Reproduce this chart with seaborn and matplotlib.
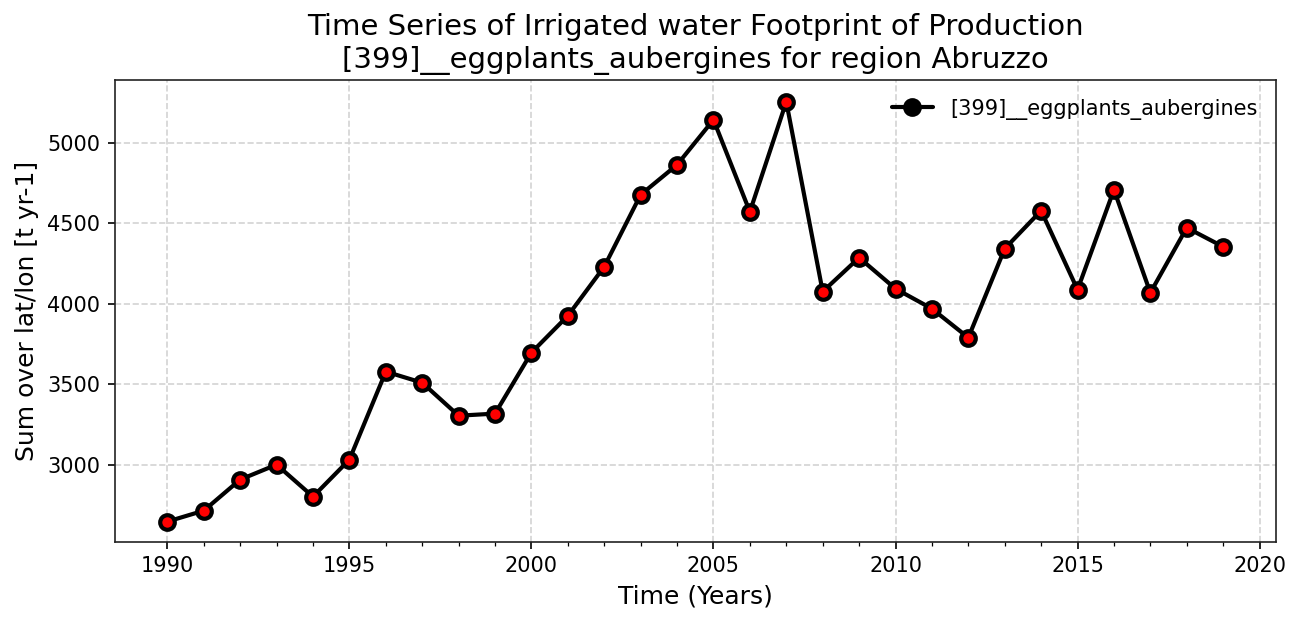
import matplotlib
matplotlib.use("Agg")
import matplotlib.pyplot as plt
import seaborn as sns
import pandas as pd
from matplotlib.ticker import MultipleLocator, FixedLocator
from matplotlib.lines import Line2D

years = list(range(1990, 2020))
values = [2646, 2714, 2907, 3000, 2801, 3031, 3578, 3509, 3304, 3317,
          3696, 3925, 4230, 4677, 4863, 5143, 4571, 5255, 4075, 4286,
          4093, 3969, 3789, 4342, 4578, 4087, 4708, 4068, 4472, 4354]
series_name = "[399]__eggplants_aubergines"

df = pd.DataFrame({"year": years, "value": values})

sns.set_style("ticks")
plt.rcParams['font.family'] = ['DejaVu Sans']
plt.rcParams['text.color'] = 'black'
plt.rcParams['axes.labelcolor'] = 'black'
plt.rcParams['xtick.color'] = 'black'
plt.rcParams['ytick.color'] = 'black'

fig = plt.figure(figsize=(8.68, 4.1667), dpi=150)
ax = fig.add_axes([0.088, 0.133, 0.892, 0.739])

sns.lineplot(data=df, x="year", y="value", ax=ax, color="black", linewidth=2,
             marker="o", markersize=7, markerfacecolor="red",
             markeredgecolor="black", markeredgewidth=2, label=series_name)

ax.set_title("Time Series of Irrigated water Footprint of Production\n"
             "[399]__eggplants_aubergines for region Abruzzo", fontsize=14,
             color="black")
ax.set_xlabel("Time (Years)", fontsize=12)
ax.set_ylabel("Sum over lat/lon [t yr-1]", fontsize=12)
ax.set_xlim(1988.55, 2020.45)
ax.set_ylim(2520, 5390)
ax.xaxis.set_major_locator(MultipleLocator(5))
ax.xaxis.set_minor_locator(FixedLocator(list(range(1990, 2021))))
ax.yaxis.set_major_locator(MultipleLocator(500))
ax.grid(True, which="major", linestyle="--", color="lightgray", linewidth=0.8)
ax.tick_params(labelsize=10, colors="black")
for s in ax.spines.values():
    s.set_visible(True)
    s.set_color("#222222")

handle = Line2D([0], [0], color="black", linewidth=2, marker="o",
                markersize=7, markerfacecolor="black", markeredgecolor="black",
                markeredgewidth=2)
ax.legend([handle], [series_name], frameon=False, loc="upper right", fontsize=10)

fig.savefig("out.png", dpi=150)
